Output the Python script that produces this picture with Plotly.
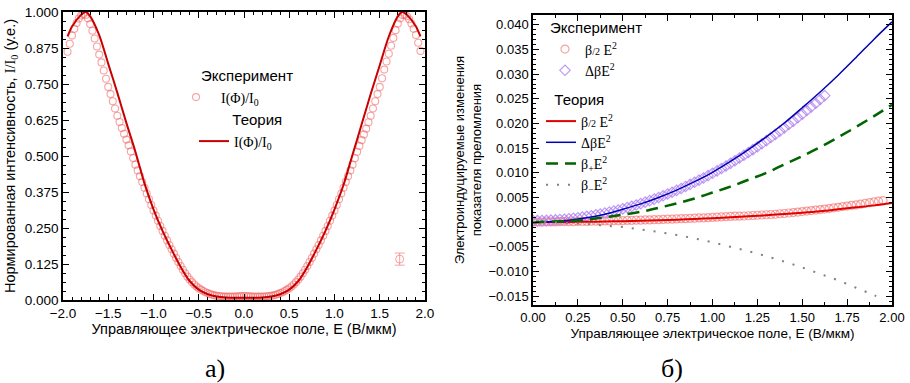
import plotly.graph_objects as go

# ---------------- Left panel (a) data ----------------
E_exp_a_neg = [-1.950, -1.925, -1.900, -1.875, -1.850, -1.825, -1.800, -1.775, -1.750, -1.725,
               -1.700, -1.675, -1.650, -1.625, -1.600, -1.575, -1.550, -1.525, -1.500, -1.475,
               -1.450, -1.425, -1.400, -1.375, -1.350, -1.325, -1.300, -1.275, -1.250, -1.225,
               -1.200, -1.175, -1.150, -1.125, -1.100, -1.075, -1.050, -1.025, -1.000, -0.975,
               -0.950, -0.925, -0.900, -0.875, -0.850, -0.825, -0.800, -0.775, -0.750, -0.725,
               -0.700, -0.675, -0.650, -0.625, -0.600, -0.575, -0.550, -0.525, -0.500, -0.475,
               -0.450, -0.425, -0.400, -0.375, -0.350, -0.325, -0.300, -0.275, -0.250, -0.225,
               -0.200, -0.175, -0.150, -0.125, -0.100, -0.075, -0.050, -0.025]
I_exp_a_neg = [0.862, 0.890, 0.918, 0.942, 0.962, 0.977, 0.988, 0.993, 0.990, 0.978,
               0.958, 0.935, 0.908, 0.880, 0.852, 0.825, 0.797, 0.768, 0.740, 0.715,
               0.690, 0.665, 0.640, 0.618, 0.597, 0.577, 0.557, 0.537, 0.516, 0.493,
               0.470, 0.450, 0.430, 0.410, 0.390, 0.370, 0.350, 0.330, 0.311, 0.293,
               0.275, 0.257, 0.240, 0.223, 0.207, 0.191, 0.176, 0.161, 0.146, 0.132,
               0.118, 0.105, 0.093, 0.081, 0.071, 0.062, 0.054, 0.047, 0.041, 0.036,
               0.031, 0.027, 0.024, 0.021, 0.018, 0.016, 0.015, 0.014, 0.013, 0.012,
               0.012, 0.012, 0.012, 0.012, 0.012, 0.013, 0.013, 0.014]
E_exp_a_pos = [0.000, 0.025, 0.050, 0.075, 0.100, 0.125, 0.150, 0.175, 0.200, 0.225,
               0.250, 0.275, 0.300, 0.325, 0.350, 0.375, 0.400, 0.425, 0.450, 0.475,
               0.500, 0.525, 0.550, 0.575, 0.600, 0.625, 0.650, 0.675, 0.700, 0.725,
               0.750, 0.775, 0.800, 0.825, 0.850, 0.875, 0.900, 0.925, 0.950, 0.975,
               1.000, 1.025, 1.050, 1.075, 1.100, 1.125, 1.150, 1.175, 1.200, 1.225,
               1.250, 1.275, 1.300, 1.325, 1.350, 1.375, 1.400, 1.425, 1.450, 1.475,
               1.500, 1.525, 1.550, 1.575, 1.600, 1.625, 1.650, 1.675, 1.700, 1.725,
               1.750, 1.775, 1.800, 1.825, 1.850, 1.875, 1.900, 1.925, 1.950]
I_exp_a_pos = [0.014, 0.014, 0.013, 0.013, 0.012, 0.012, 0.012, 0.012, 0.012, 0.012,
               0.013, 0.014, 0.015, 0.016, 0.018, 0.021, 0.024, 0.027, 0.031, 0.036,
               0.041, 0.047, 0.054, 0.062, 0.071, 0.081, 0.093, 0.105, 0.118, 0.132,
               0.146, 0.161, 0.176, 0.191, 0.207, 0.223, 0.240, 0.257, 0.275, 0.293,
               0.311, 0.330, 0.350, 0.370, 0.390, 0.410, 0.430, 0.450, 0.470, 0.492,
               0.515, 0.535, 0.555, 0.575, 0.595, 0.617, 0.640, 0.665, 0.690, 0.715,
               0.740, 0.770, 0.800, 0.828, 0.855, 0.883, 0.910, 0.937, 0.960, 0.978,
               0.990, 0.990, 0.985, 0.975, 0.960, 0.942, 0.920, 0.893, 0.865]

E_th_a = [-1.95, -1.90, -1.80, -1.75, -1.70, -1.60, -1.50, -1.40, -1.30, -1.20,
          -1.10, -1.00, -0.90, -0.80, -0.70, -0.60, -0.50, -0.40, -0.30, -0.20,
          -0.10, 0.00, 0.10, 0.20, 0.30, 0.40, 0.50, 0.60, 0.70, 0.80,
          0.90, 1.00, 1.10, 1.20, 1.30, 1.40, 1.50, 1.60, 1.70, 1.75,
          1.80, 1.90, 1.95]
I_th_a = [0.915, 0.950, 0.990, 1.000, 0.985, 0.920, 0.820, 0.720, 0.615, 0.515,
          0.405, 0.315, 0.240, 0.175, 0.115, 0.066, 0.036, 0.020, 0.012, 0.009,
          0.008, 0.008, 0.008, 0.009, 0.012, 0.020, 0.036, 0.066, 0.115, 0.175,
          0.240, 0.315, 0.400, 0.505, 0.610, 0.715, 0.815, 0.915, 0.985, 1.000,
          0.990, 0.950, 0.915]

E_err_a = [1.72]
I_err_a = [0.142]
I_err_size = [0.021]

# ---------------- Right panel (б) data ----------------
E_exp_b_red = [0.000, 0.025, 0.050, 0.075, 0.100, 0.125, 0.150, 0.175, 0.200, 0.225,
               0.250, 0.275, 0.300, 0.325, 0.350, 0.375, 0.400, 0.425, 0.450, 0.475,
               0.500, 0.525, 0.550, 0.575, 0.600, 0.625, 0.650, 0.675, 0.700, 0.725,
               0.750, 0.775, 0.800, 0.825, 0.850, 0.875, 0.900, 0.925, 0.950, 0.975,
               1.000, 1.025, 1.050, 1.075, 1.100, 1.125, 1.150, 1.175, 1.200, 1.225,
               1.250, 1.275, 1.300, 1.325, 1.350, 1.375, 1.400, 1.425, 1.450, 1.475,
               1.500, 1.525, 1.550, 1.575, 1.600, 1.625, 1.650, 1.675, 1.700, 1.725,
               1.750, 1.775, 1.800, 1.825, 1.850, 1.875, 1.900, 1.925, 1.950]
V_exp_b_red = [0.00000, 0.00000, 0.00000, 0.00005, 0.00005, 0.00005, 0.00010, 0.00010, 0.00010, 0.00010,
               0.00015, 0.00015, 0.00015, 0.00020, 0.00020, 0.00020, 0.00025, 0.00025, 0.00030, 0.00030,
               0.00030, 0.00035, 0.00035, 0.00040, 0.00040, 0.00045, 0.00045, 0.00050, 0.00050, 0.00055,
               0.00060, 0.00060, 0.00065, 0.00070, 0.00070, 0.00075, 0.00080, 0.00085, 0.00085, 0.00090,
               0.00095, 0.00100, 0.00105, 0.00110, 0.00115, 0.00120, 0.00120, 0.00125, 0.00130, 0.00135,
               0.00140, 0.00145, 0.00150, 0.00155, 0.00160, 0.00170, 0.00175, 0.00185, 0.00195, 0.00205,
               0.00215, 0.00225, 0.00235, 0.00245, 0.00255, 0.00265, 0.00275, 0.00290, 0.00300, 0.00315,
               0.00325, 0.00340, 0.00350, 0.00365, 0.00380, 0.00395, 0.00410, 0.00425, 0.00435]

E_exp_b_vio = [0.000, 0.025, 0.050, 0.075, 0.100, 0.125, 0.150, 0.175, 0.200, 0.225,
               0.250, 0.275, 0.300, 0.325, 0.350, 0.375, 0.400, 0.425, 0.450, 0.475,
               0.500, 0.525, 0.550, 0.575, 0.600, 0.625, 0.650, 0.675, 0.700, 0.725,
               0.750, 0.775, 0.800, 0.825, 0.850, 0.875, 0.900, 0.925, 0.950, 0.975,
               1.000, 1.025, 1.050, 1.075, 1.100, 1.125, 1.150, 1.175, 1.200, 1.225,
               1.250, 1.275, 1.300, 1.325, 1.350, 1.375, 1.400, 1.425, 1.450, 1.475,
               1.500, 1.525, 1.550, 1.575, 1.600, 1.625]
V_exp_b_vio = [0.00030, 0.00030, 0.00032, 0.00035, 0.00040, 0.00045, 0.00052, 0.00059, 0.00068, 0.00079,
               0.00090, 0.00103, 0.00116, 0.00131, 0.00148, 0.00165, 0.00184, 0.00203, 0.00224, 0.00247,
               0.00270, 0.00295, 0.00320, 0.00347, 0.00376, 0.00405, 0.00436, 0.00467, 0.00500, 0.00535,
               0.00570, 0.00607, 0.00644, 0.00683, 0.00724, 0.00765, 0.00808, 0.00851, 0.00896, 0.00943,
               0.00990, 0.01039, 0.01088, 0.01139, 0.01192, 0.01245, 0.01300, 0.01355, 0.01412, 0.01471,
               0.01530, 0.01591, 0.01652, 0.01715, 0.01780, 0.01845, 0.01912, 0.01980, 0.02048, 0.02119,
               0.02190, 0.02263, 0.02336, 0.02411, 0.02488, 0.02565]

E_th_b = [0.0, 0.1, 0.2, 0.3, 0.4, 0.5, 0.6, 0.7, 0.8, 0.9, 1.0,
          1.1, 1.2, 1.3, 1.4, 1.5, 1.6, 1.7, 1.8, 1.9, 2.0]
V_th_red = [0.0, 0.00002, 0.00005, 0.00008, 0.00013, 0.0002, 0.0003, 0.0004, 0.0005, 0.00065, 0.0008,
            0.00098, 0.00118, 0.0014, 0.00165, 0.0019, 0.0022, 0.0026, 0.0030, 0.0034, 0.0039]
V_th_blue = [0.0, 0.0001, 0.0004, 0.0009, 0.0016, 0.0026, 0.0037, 0.0050, 0.0065, 0.0082, 0.0101,
             0.0123, 0.0147, 0.0173, 0.0201, 0.0232, 0.0264, 0.0298, 0.0334, 0.0371, 0.0406]
V_th_green = [0.0, 0.0001, 0.0002, 0.0005, 0.0010, 0.0015, 0.0021, 0.0029, 0.0038, 0.0048, 0.0060,
              0.0072, 0.0086, 0.0100, 0.0117, 0.0134, 0.0152, 0.0172, 0.0193, 0.0215, 0.0238]
E_th_gray = [0.0, 0.1, 0.2, 0.3, 0.4, 0.5, 0.6, 0.7, 0.8, 0.9, 1.0,
             1.1, 1.2, 1.3, 1.4, 1.5, 1.6, 1.7, 1.8, 1.9, 1.95]
V_th_gray = [0.0, 0.0, -0.0002, -0.0004, -0.0007, -0.0010, -0.0015, -0.0020, -0.0026, -0.0033, -0.0041,
             -0.0050, -0.0059, -0.0069, -0.0080, -0.0092, -0.0105, -0.0118, -0.0133, -0.0148, -0.0156]

SANS = "Liberation Sans, Arial, sans-serif"
SERIF = "Liberation Serif, Times New Roman, serif"

EXP_RED = "rgba(240,90,90,0.55)"
VIOLET = "rgba(170,120,240,0.75)"
NB = "&nbsp;"
W, H = 910, 383

fig = go.Figure()

# --- panel a ---
fig.add_trace(go.Scatter(
    x=E_exp_a_neg + E_exp_a_pos, y=I_exp_a_neg + I_exp_a_pos, mode="markers",
    xaxis="x", yaxis="y",
    marker=dict(symbol="circle-open", size=7, color=EXP_RED, line=dict(width=1.1)),
    name="I(Φ)/I<sub>0</sub>", legend="legend",
    legendgrouptitle=dict(text=NB * 6 + "Эксперимент")))
fig.add_trace(go.Scatter(
    x=E_th_a, y=I_th_a, mode="lines", xaxis="x", yaxis="y",
    line=dict(color="#c80000", width=2, shape="spline", smoothing=0.8),
    name="I(Φ)/I<sub>0</sub>", legend="legend3",
    legendgrouptitle=dict(text=NB * 8 + "Теория")))
fig.add_trace(go.Scatter(
    x=E_err_a, y=I_err_a, mode="markers", xaxis="x", yaxis="y", showlegend=False,
    marker=dict(symbol="circle-open", size=8, color=EXP_RED, line=dict(width=1)),
    error_y=dict(type="data", array=I_err_size, color=EXP_RED, thickness=1, width=5)))

# --- panel b ---
fig.add_trace(go.Scatter(
    x=E_exp_b_red, y=V_exp_b_red, mode="markers", xaxis="x2", yaxis="y2",
    marker=dict(symbol="circle-open", size=8, color=EXP_RED, line=dict(width=1.2)),
    name="β<span style='font-size:10px'>/2</span> E<sup>2</sup>",
    legend="legend2", legendgroup="expb",
    legendgrouptitle=dict(text="Эксперимент")))
fig.add_trace(go.Scatter(
    x=E_exp_b_vio, y=V_exp_b_vio, mode="markers", xaxis="x2", yaxis="y2",
    marker=dict(symbol="diamond-open", size=8, color=VIOLET, line=dict(width=1.2)),
    name="ΔβE<sup>2</sup>", legend="legend2", legendgroup="expb"))
fig.add_trace(go.Scatter(
    x=E_th_b, y=V_th_red, mode="lines", xaxis="x2", yaxis="y2",
    line=dict(color="#e00000", width=2, shape="spline"),
    name="β<span style='font-size:10px'>/2</span> E<sup>2</sup>",
    legend="legend4", legendgroup="thb",
    legendgrouptitle=dict(text=NB * 2 + "Теория")))
fig.add_trace(go.Scatter(
    x=E_th_b, y=V_th_blue, mode="lines", xaxis="x2", yaxis="y2",
    line=dict(color="#0000b4", width=1.5, shape="spline"),
    name="ΔβE<sup>2</sup>", legend="legend4", legendgroup="thb"))
fig.add_trace(go.Scatter(
    x=E_th_b, y=V_th_green, mode="lines", xaxis="x2", yaxis="y2",
    line=dict(color="#006400", width=2.5, dash="12px,7px", shape="spline"),
    name="β<sub>+</sub>E<sup>2</sup>", legend="legend4", legendgroup="thb"))
fig.add_trace(go.Scatter(
    x=E_th_gray, y=V_th_gray, mode="lines", xaxis="x2", yaxis="y2",
    line=dict(color="#808080", width=2, dash="2px,9px", shape="spline"),
    name="β<sub>−</sub>E<sup>2</sup>", legend="legend4", legendgroup="thb"))

axis_common = dict(showline=True, linecolor="black", linewidth=1.5, mirror="ticks",
                   ticks="inside", ticklen=6, tickwidth=1.2, tickcolor="black",
                   showgrid=False, zeroline=False, automargin=False)


def legend_box(x_px, y_px, itemwidth=30):
    return dict(x=x_px / W, y=1 - y_px / H, xanchor="left", yanchor="top",
                bgcolor="rgba(0,0,0,0)", font=dict(family=SERIF, size=14),
                grouptitlefont=dict(family=SANS, size=15), tracegroupgap=0,
                itemwidth=itemwidth, maxheight=300)


fig.update_layout(
    width=W, height=H,
    margin=dict(l=0, r=0, t=0, b=0, autoexpand=False),
    paper_bgcolor="white", plot_bgcolor="white",
    font=dict(family=SANS, color="black"),
    xaxis=dict(domain=[63/W, 425/W], range=[-2, 2], dtick=0.5, tickformat=".1f",
               tickfont=dict(size=13.5), anchor="y",
               minor=dict(dtick=0.1, ticklen=3, ticks="inside", tickcolor="black"),
               title=dict(text="Управляющее электрическое поле, E (В/мкм)",
                          font=dict(size=14.5), standoff=4),
               **axis_common),
    yaxis=dict(domain=[1 - 300/H, 1 - 12/H], range=[0, 1], dtick=0.125, tickformat=".3f",
               tickfont=dict(size=13.5), anchor="x",
               minor=dict(dtick=0.03125, ticklen=3, ticks="inside", tickcolor="black"),
               title=dict(text="Нормированная интенсивность, <span style='font-family:Liberation Serif'>I/I<sub>0</sub></span> (у.е.)",
                          font=dict(size=14.5), standoff=6),
               **axis_common),
    xaxis2=dict(domain=[533/W, 892/W], range=[0, 2], dtick=0.25, tickformat=".2f",
                tickfont=dict(size=13), anchor="y2",
                minor=dict(dtick=0.125, ticklen=3, ticks="inside", tickcolor="black"),
                title=dict(text="Управляющее электрическое поле, E (В/мкм)",
                           font=dict(size=13.5), standoff=4),
                **axis_common),
    yaxis2=dict(domain=[1 - 305/H, 1 - 15/H], range=[-0.0168, 0.042], dtick=0.005,
                tickformat=".3f", tickfont=dict(size=13), anchor="x2",
                minor=dict(dtick=0.001, ticklen=3, ticks="inside", tickcolor="black"),
                title=dict(text="Электроиндуцируемые изменения<br>показателя преломления",
                           font=dict(size=13), standoff=4),
                **axis_common),
    legend=legend_box(171, 59, itemwidth=40),
    legend3=legend_box(194, 103),
    legend2=legend_box(545, 11),
    legend4=legend_box(541, 83),
    annotations=[
        dict(text="а)", x=215/W, y=1 - 368/H, xref="paper", yref="paper",
             xanchor="center", yanchor="middle",
             showarrow=False, font=dict(family=SERIF, size=26)),
        dict(text="б)", x=672/W, y=1 - 368/H, xref="paper", yref="paper",
             xanchor="center", yanchor="middle",
             showarrow=False, font=dict(family=SERIF, size=26)),
    ],
)

fig.write_html("out.html", config={"displayModeBar": False},
               post_script="document.body.style.margin='0';document.body.style.overflow='hidden';")
